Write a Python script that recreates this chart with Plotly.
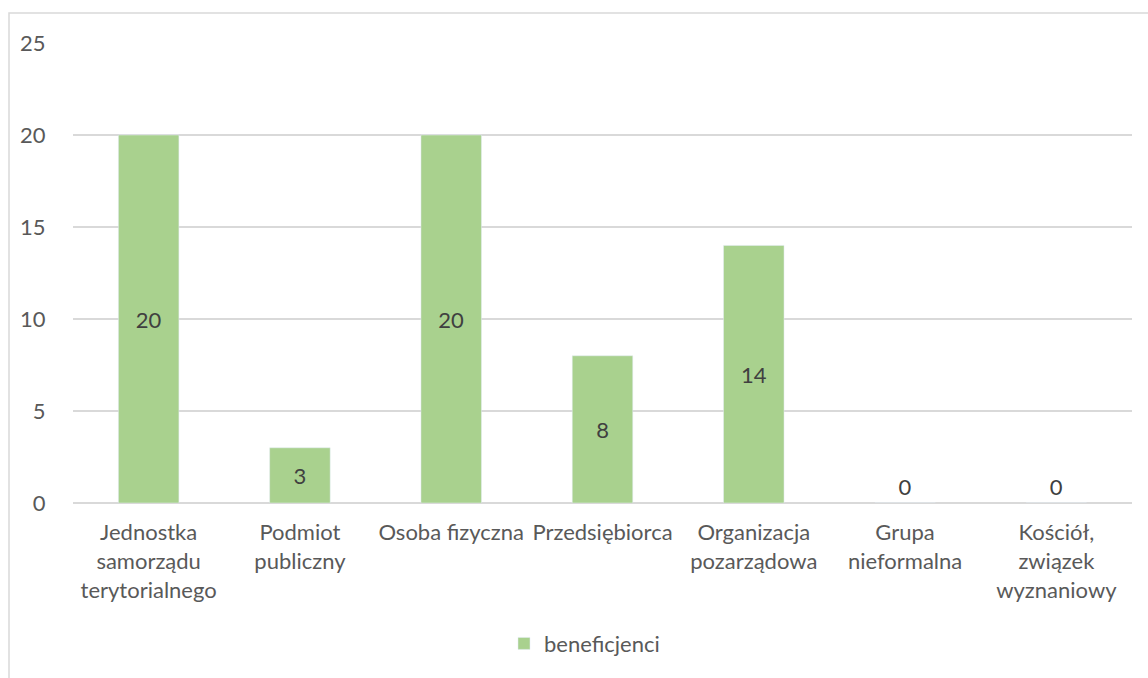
import plotly.graph_objects as go

categories = [
    "Jednostka<br>samorządu<br>terytorialnego",
    "Podmiot<br>publiczny",
    "Osoba fizyczna",
    "Przedsiębiorca",
    "Organizacja<br>pozarządowa",
    "Grupa<br>nieformalna",
    "Kościół,<br>związek<br>wyznaniowy",
]
values = [20, 3, 20, 8, 14, 0, 0]
y_ticks = [0, 5, 10, 15, 20, 25]

FONT = "Lato, 'Open Sans', sans-serif"
GRID = "#D9D9D9"
SIZE = 22

fig = go.Figure(go.Bar(
    x=categories,
    y=values,
    name="beneficjenci",
    marker_color="#A9D18E",
    text=[str(v) for v in values],
    textposition=["inside" if v > 0 else "outside" for v in values],
    insidetextanchor="middle",
    textfont=dict(family=FONT, size=SIZE, color="#404040"),
    cliponaxis=False,
    showlegend=True,
))

fig.update_layout(
    width=1148,
    height=678,
    margin=dict(l=73, r=16, t=43, b=175),
    plot_bgcolor="white",
    paper_bgcolor="white",
    bargap=0.6,
    font=dict(family=FONT, size=SIZE, color="#595959"),
    xaxis=dict(
        automargin=False,
        showgrid=False,
        showline=False,
        tickfont=dict(size=SIZE, color="#595959"),
        ticks="outside",
        ticklen=10,
        tickcolor="rgba(0,0,0,0)",
    ),
    yaxis=dict(
        automargin=False,
        range=[0, 25],
        tickvals=y_ticks,
        showgrid=True,
        gridcolor=GRID,
        gridwidth=1.5,
        zeroline=True,
        zerolinecolor=GRID,
        zerolinewidth=1.5,
        tickfont=dict(size=SIZE, color="#595959"),
        ticks="outside",
        ticklen=22,
        tickcolor="rgba(0,0,0,0)",
    ),
    legend=dict(
        orientation="h",
        x=0.483,
        xanchor="center",
        y=-0.26,
        yanchor="top",
        font=dict(size=SIZE, color="#595959"),
    ),
    shapes=[dict(
        type="rect",
        xref="paper", yref="paper",
        x0=(9 - 73) / 1059, x1=1.2,
        y0=-0.6, y1=1 + 30 / 460,
        line=dict(color=GRID, width=1.5),
        fillcolor="rgba(0,0,0,0)",
        layer="below",
    )],
)

fig.write_html(
    "out.html",
    config={"displayModeBar": False},
    post_script="document.body.style.margin='0';document.body.style.overflow='hidden';",
)
